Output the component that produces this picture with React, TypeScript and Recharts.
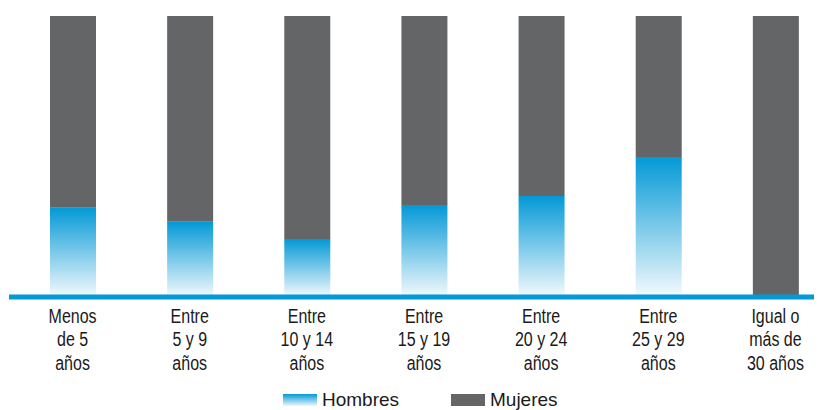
import { BarChart, Bar, XAxis, YAxis, Legend } from 'recharts';

const categories = [
  'Menos\nde 5\naños',
  'Entre\n5 y 9\naños',
  'Entre\n10 y 14\naños',
  'Entre\n15 y 19\naños',
  'Entre\n20 y 24\naños',
  'Entre\n25 y 29\naños',
  'Igual o\nmás de\n30 años',
];
const hombres = [31.8, 26.8, 20.6, 32.7, 35.9, 49.8, 0];
const mujeres = [68.2, 73.2, 79.4, 67.3, 64.1, 50.2, 100];

const BLUE = '#0399d6';
const GREY = '#646567';

const data = categories.map((c, i) => ({ name: c, Hombres: hombres[i], Mujeres: mujeres[i] }));

// condensed look: regular sans squeezed horizontally
function Tick({ x, y, payload }: any) {
  const lines = String(payload.value).split('\n');
  return (
    <text
      transform={`translate(${x},${y + 26}) scale(0.8,1)`}
      x={0}
      y={0}
      textAnchor="middle"
      fill="#1a1a1a"
      fontSize={20}
      fontFamily='"Liberation Sans", Arial, sans-serif'
    >
      {lines.map((l, i) => (
        <tspan key={i} x={0} dy={i === 0 ? 0 : 23.4}>
          {l}
        </tspan>
      ))}
    </text>
  );
}

function LegendBox() {
  const item = (left: number, label: string, bg: string) => (
    <div style={{ position: 'absolute', left, top: 0, height: 20, display: 'flex', alignItems: 'center' }}>
      <div style={{ width: 34, height: 12, background: bg, marginRight: 5 }} />
      <span style={{ fontSize: 19, lineHeight: '20px', color: '#1a1a1a', fontFamily: '"Liberation Sans", Arial, sans-serif' }}>{label}</span>
    </div>
  );
  return (
    <div style={{ position: 'relative', height: 20, width: 826 }}>
      {item(275, 'Hombres', `linear-gradient(to bottom, ${BLUE}, #eef7fc)`)}
      {item(443, 'Mujeres', GREY)}
    </div>
  );
}

export default function App() {
  return (
    <div style={{ width: 814, height: 402, overflow: 'hidden', position: 'relative' }}>
      <BarChart
        width={826}
        height={402}
        data={data}
        margin={{ top: 8, right: 0, left: 1, bottom: 0 }}
        barSize={46}
      >
        <defs>
          <linearGradient id="hombresGrad" x1="0" y1="0" x2="0" y2="1">
            <stop offset="0%" stopColor={BLUE} />
            <stop offset="100%" stopColor="#f4fafd" />
          </linearGradient>
        </defs>
        <YAxis hide domain={[0, 100]} />
        <XAxis
          dataKey="name"
          height={93}
          padding={{ left: 5, right: 0 }}
          axisLine={{ stroke: BLUE, strokeWidth: 5 }}
          tickLine={false}
          tickSize={0}
          tickMargin={0}
          interval={0}
          tick={<Tick />}
        />
        <Legend verticalAlign="bottom" align="left" wrapperStyle={{ left: 0, width: 826 }} content={() => <LegendBox />} />
        <Bar dataKey="Hombres" stackId="a" fill="url(#hombresGrad)" isAnimationActive={false} />
        <Bar dataKey="Mujeres" stackId="a" fill={GREY} isAnimationActive={false} />
      </BarChart>
    </div>
  );
}
